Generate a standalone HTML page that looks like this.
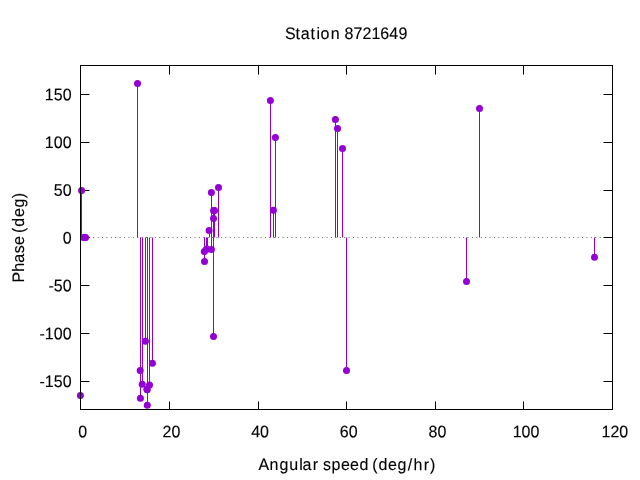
<!DOCTYPE html>
<html lang="en"><head><meta charset="utf-8"><title>Station 8721649</title>
<style>html,body{margin:0;padding:0;background:#fff;}body{width:640px;height:480px;overflow:hidden;}svg{display:block;}text{font-family:"Liberation Sans",sans-serif;font-size:16px;fill:#000;stroke:#000;stroke-width:0.12px;}</style>
</head><body>
<svg width="640" height="480" viewBox="0 0 640 480">
<rect x="0" y="0" width="640" height="480" fill="#fff"/>
<g id="gfx">
<g stroke="#000" stroke-width="1" fill="none">
<path d="M80.5 94.5H89.5M612.5 94.5H603.5"/>
<path d="M80.5 142.5H89.5M612.5 142.5H603.5"/>
<path d="M80.5 190.5H89.5M612.5 190.5H603.5"/>
<path d="M80.5 237.5H89.5M612.5 237.5H603.5"/>
<path d="M80.5 285.5H89.5M612.5 285.5H603.5"/>
<path d="M80.5 333.5H89.5M612.5 333.5H603.5"/>
<path d="M80.5 381.5H89.5M612.5 381.5H603.5"/>
<path d="M80.5 409.5V401.5M80.5 65.5V74.5"/>
<path d="M169.5 409.5V401.5M169.5 65.5V74.5"/>
<path d="M258.5 409.5V401.5M258.5 65.5V74.5"/>
<path d="M346.5 409.5V401.5M346.5 65.5V74.5"/>
<path d="M435.5 409.5V401.5M435.5 65.5V74.5"/>
<path d="M523.5 409.5V401.5M523.5 65.5V74.5"/>
<path d="M612.5 409.5V401.5M612.5 65.5V74.5"/>
</g>
<path d="M80 237.5H612.5" stroke="#000" stroke-opacity="0.6" stroke-width="1" stroke-dasharray="1 3.4035" fill="none"/>
<g stroke="#9400d3" stroke-width="1" fill="none">
<path d="M80.5 237.5V395.4"/>
<path d="M81.5 237.5V190.4"/>
<path d="M137.5 237.5V83.4"/>
<path d="M140.5 237.5V370.4"/>
<path d="M140.5 237.5V398.2"/>
<path d="M142.5 237.5V384.3"/>
<path d="M145.5 237.5V341.3"/>
<path d="M147.5 237.5V389.2"/>
<path d="M147.5 237.5V389.7"/>
<path d="M147.5 237.5V405.2"/>
<path d="M149.5 237.5V385.1"/>
<path d="M152.5 237.5V363.3"/>
<path d="M204.5 237.5V251.5"/>
<path d="M204.5 237.5V261.4"/>
<path d="M206.5 237.5V249.2"/>
<path d="M207.5 237.5V249.0"/>
<path d="M209.5 237.5V230.4"/>
<path d="M211.5 237.5V192.4"/>
<path d="M211.5 237.5V249.4"/>
<path d="M213.5 237.5V210.4"/>
<path d="M214.5 237.5V210.4"/>
<path d="M213.5 237.5V218.4"/>
<path d="M213.5 237.5V336.4"/>
<path d="M218.5 237.5V187.4"/>
<path d="M270.5 237.5V100.4"/>
<path d="M273.5 237.5V210.3"/>
<path d="M275.5 237.5V137.5"/>
<path d="M335.5 237.5V119.4"/>
<path d="M337.5 237.5V128.4"/>
<path d="M342.5 237.5V148.4"/>
<path d="M346.5 237.5V370.4"/>
<path d="M466.5 237.5V281.4"/>
<path d="M479.5 237.5V108.4"/>
<path d="M594.5 237.5V257.3"/>
</g>
<g fill="#9400d3">
<circle cx="80.4" cy="395.4" r="3.5"/>
<circle cx="81.55" cy="190.4" r="3.5"/>
<circle cx="83.6" cy="237.4" r="3.5"/>
<circle cx="85.0" cy="237.4" r="3.5"/>
<circle cx="85.5" cy="237.4" r="3.5"/>
<circle cx="137.5" cy="83.4" r="3.5"/>
<circle cx="140.2" cy="370.4" r="3.5"/>
<circle cx="140.4" cy="398.2" r="3.5"/>
<circle cx="142.2" cy="384.3" r="3.5"/>
<circle cx="145.4" cy="341.3" r="3.5"/>
<circle cx="146.9" cy="389.2" r="3.5"/>
<circle cx="147.2" cy="389.7" r="3.5"/>
<circle cx="147.3" cy="405.2" r="3.5"/>
<circle cx="149.5" cy="385.1" r="3.5"/>
<circle cx="152.4" cy="363.3" r="3.5"/>
<circle cx="204.3" cy="251.5" r="3.5"/>
<circle cx="204.5" cy="261.4" r="3.5"/>
<circle cx="206.5" cy="249.2" r="3.5"/>
<circle cx="206.9" cy="249.0" r="3.5"/>
<circle cx="209.1" cy="230.4" r="3.5"/>
<circle cx="211.4" cy="192.4" r="3.5"/>
<circle cx="211.4" cy="249.4" r="3.5"/>
<circle cx="213.6" cy="210.4" r="3.5"/>
<circle cx="214.5" cy="210.4" r="3.5"/>
<circle cx="213.5" cy="218.4" r="3.5"/>
<circle cx="213.5" cy="336.4" r="3.5"/>
<circle cx="218.5" cy="187.4" r="3.5"/>
<circle cx="270.4" cy="100.4" r="3.5"/>
<circle cx="273.4" cy="210.3" r="3.5"/>
<circle cx="275.4" cy="137.5" r="3.5"/>
<circle cx="335.4" cy="119.4" r="3.5"/>
<circle cx="337.5" cy="128.4" r="3.5"/>
<circle cx="342.5" cy="148.4" r="3.5"/>
<circle cx="346.5" cy="370.4" r="3.5"/>
<circle cx="466.5" cy="281.4" r="3.5"/>
<circle cx="479.5" cy="108.4" r="3.5"/>
<circle cx="594.5" cy="257.3" r="3.5"/>
</g>
<rect x="80.5" y="65.5" width="532" height="344" fill="none" stroke="#000" stroke-width="1"/>
</g>
<g id="labels">
<text id="y150" transform="translate(44.89 100.25) rotate(0.05) scale(1 1.04) translate(-44.89 0)" x="44.89 53.71 62.67" y="0">150</text>
<text id="y100" transform="translate(44.89 148.02) rotate(0.05) scale(1 1.04) translate(-44.89 0)" x="44.89 53.67 62.67" y="0">100</text>
<text id="y50" transform="translate(53.71 195.8) rotate(0.05) scale(1 1.04) translate(-53.71 0)" x="53.71 62.67" y="0">50</text>
<text id="y0" transform="translate(62.67 243.58) rotate(0.05) scale(1 1.04) translate(-62.67 0)" x="62.67" y="0">0</text>
<text id="y-50" transform="translate(48.52 291.36) rotate(0.05) scale(1 1.04) translate(-48.52 0)" x="48.52 53.71 62.67" y="0">-50</text>
<text id="y-100" transform="translate(39.52 339.14) rotate(0.05) scale(1 1.04) translate(-39.52 0)" x="39.52 44.89 53.67 62.67" y="0">-100</text>
<text id="y-150" transform="translate(39.52 386.91) rotate(0.05) scale(1 1.04) translate(-39.52 0)" x="39.52 44.89 53.71 62.67" y="0">-150</text>
<text id="x0" transform="translate(78.28 437.35) rotate(0.05) scale(1 1.04) translate(-78.28 0)" x="78.28" y="0">0</text>
<text id="x20" transform="translate(162.58 437.35) rotate(0.05) scale(1 1.04) translate(-162.58 0)" x="162.58 171.44" y="0">20</text>
<text id="x40" transform="translate(251.21 437.35) rotate(0.05) scale(1 1.04) translate(-251.21 0)" x="251.21 260.11" y="0">40</text>
<text id="x60" transform="translate(339.85 437.35) rotate(0.05) scale(1 1.04) translate(-339.85 0)" x="339.85 348.77" y="0">60</text>
<text id="x80" transform="translate(428.60 437.35) rotate(0.05) scale(1 1.04) translate(-428.60 0)" x="428.60 437.44" y="0">80</text>
<text id="x100" transform="translate(512.82 437.35) rotate(0.05) scale(1 1.04) translate(-512.82 0)" x="512.82 521.61 530.61" y="0">100</text>
<text id="x120" transform="translate(601.49 437.35) rotate(0.05) scale(1 1.04) translate(-601.49 0)" x="601.49 610.41 619.28" y="0">120</text>
<text id="title" transform="translate(285.02 39) rotate(0.05) scale(1 1.04) translate(-285.02 0)" x="285.02 295.60 300.74 310.60 316.45 320.61 330.76 340.20 344.44 353.56 362.41 371.49 380.35 389.38 398.41" y="0">Station 8721649</text>
<text id="xlabel" transform="translate(258.49 470) rotate(0.05) scale(1 1.04) translate(-258.49 0)" x="258.49 269.46 279.57 289.36 299.20 302.44 312.69 318.90 322.90 331.47 341.04 350.04 359.40 368.90 372.22 378.40 388.04 397.57 407.65 413.39 423.69 429.90" y="0">Angular speed (deg/hr)</text>
<text id="ylabel" transform="translate(24 282.2) rotate(-90.05) scale(1 1.04)" x="-0.26 10.49 19.54 29.00 37.14 46.00 49.33 55.50 65.14 74.67 84.00" y="0">Phase (deg)</text>
</g>
</svg></body></html>
